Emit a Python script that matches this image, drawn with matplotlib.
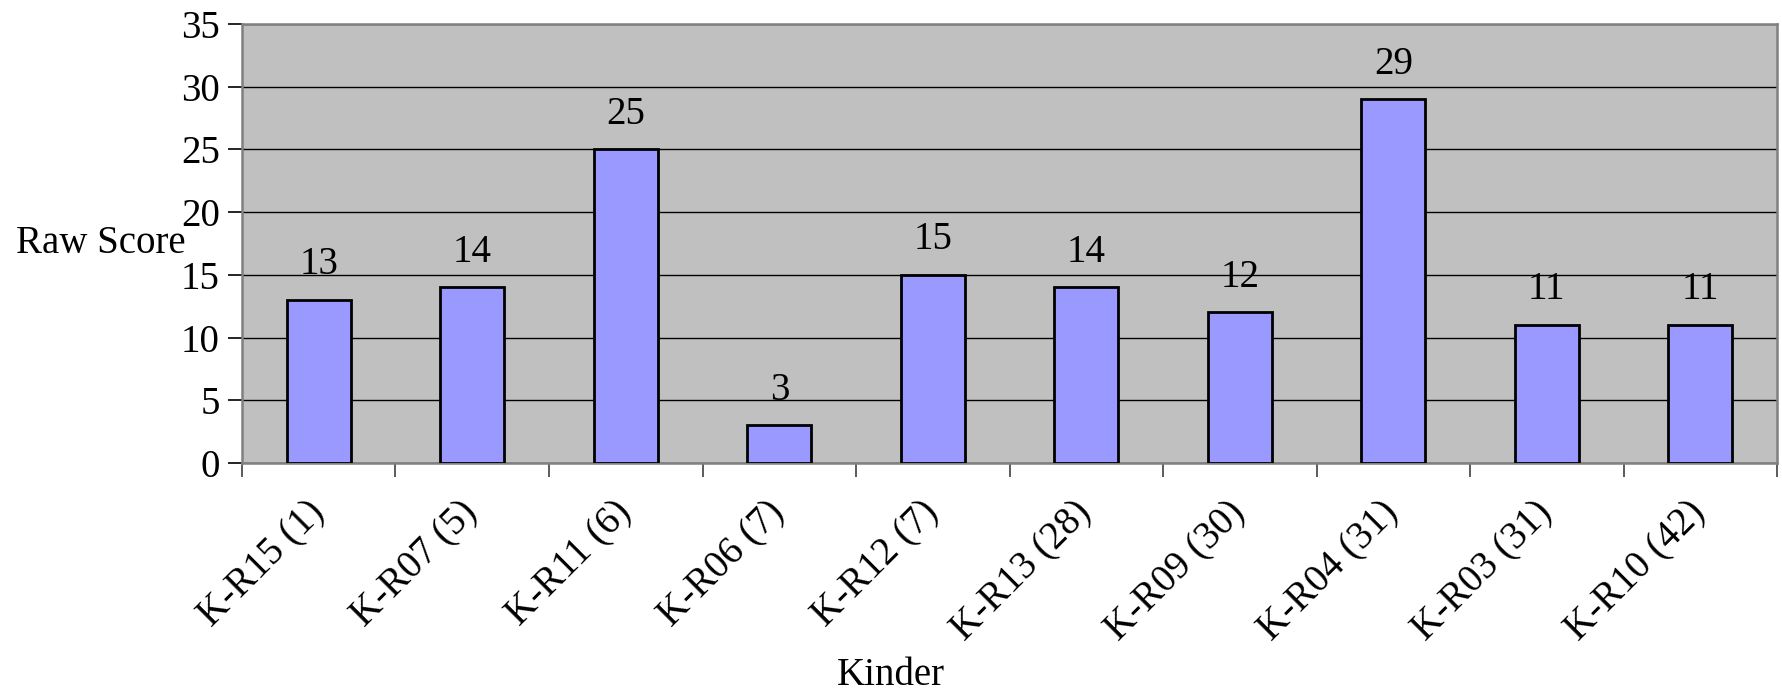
"""Raw score by kinder bar chart."""
import matplotlib
matplotlib.use("Agg")
import matplotlib.pyplot as plt
import matplotlib.ticker as ticker
import numpy as np

categories = ["K-R15 (1)", "K-R07 (5)", "K-R11 (6)", "K-R06 (7)", "K-R12 (7)",
              "K-R13 (28)", "K-R09 (30)", "K-R04 (31)", "K-R03 (31)", "K-R10 (42)"]
scores = [13, 14, 25, 3, 15, 14, 12, 29, 11, 11]
y_ticks = [0, 5, 10, 15, 20, 25, 30, 35]

plt.rcParams.update({
    "font.family": ["Liberation Serif", "DejaVu Serif"],
    "font.size": 28,
})

fig = plt.figure(figsize=(17.82, 6.97), dpi=100)
ax = fig.add_axes([0.1358, 0.3357, 0.8614, 0.6299])
ax.set_facecolor("#c0c0c0")

x = np.arange(len(categories))
ax.bar(x, scores, width=0.42, color="#9999ff", edgecolor="black", linewidth=2, zorder=3)

for xi, val in zip(x, scores):
    ax.annotate(str(val), (xi, val), xytext=(0, 12), textcoords="offset points",
                ha="center", va="bottom", fontsize=28)

ax.set_xlim(-0.5, len(categories) - 0.5)
ax.set_ylim(0, 35)
ax.set_yticks(y_ticks)
ax.yaxis.grid(True, color="black", linewidth=1.0, zorder=0)
ax.set_axisbelow(True)

ax.set_xticks(x)
ax.set_xticklabels(categories, rotation=45, ha="right", va="center", rotation_mode="anchor")
ax.tick_params(axis="x", which="major", length=0, pad=32)
# tick marks sit between categories
ax.xaxis.set_minor_locator(ticker.FixedLocator(np.arange(len(categories) + 1) - 0.5))
ax.tick_params(axis="x", which="minor", length=10, width=1.2, color="#404040")
ax.tick_params(axis="y", length=10, width=1.2, pad=6)

for side in ["left", "right", "top", "bottom"]:
    ax.spines[side].set_color("#808080")
    ax.spines[side].set_linewidth(1.8)

ax.set_ylabel("Raw Score", rotation=0, ha="center", va="center")
ax.yaxis.set_label_coords(-0.092, 0.5)
fig.text(0.5, 0.004, "Kinder", ha="center", va="bottom", fontsize=28)

fig.savefig("out.png", dpi=100)
plt.close(fig)
